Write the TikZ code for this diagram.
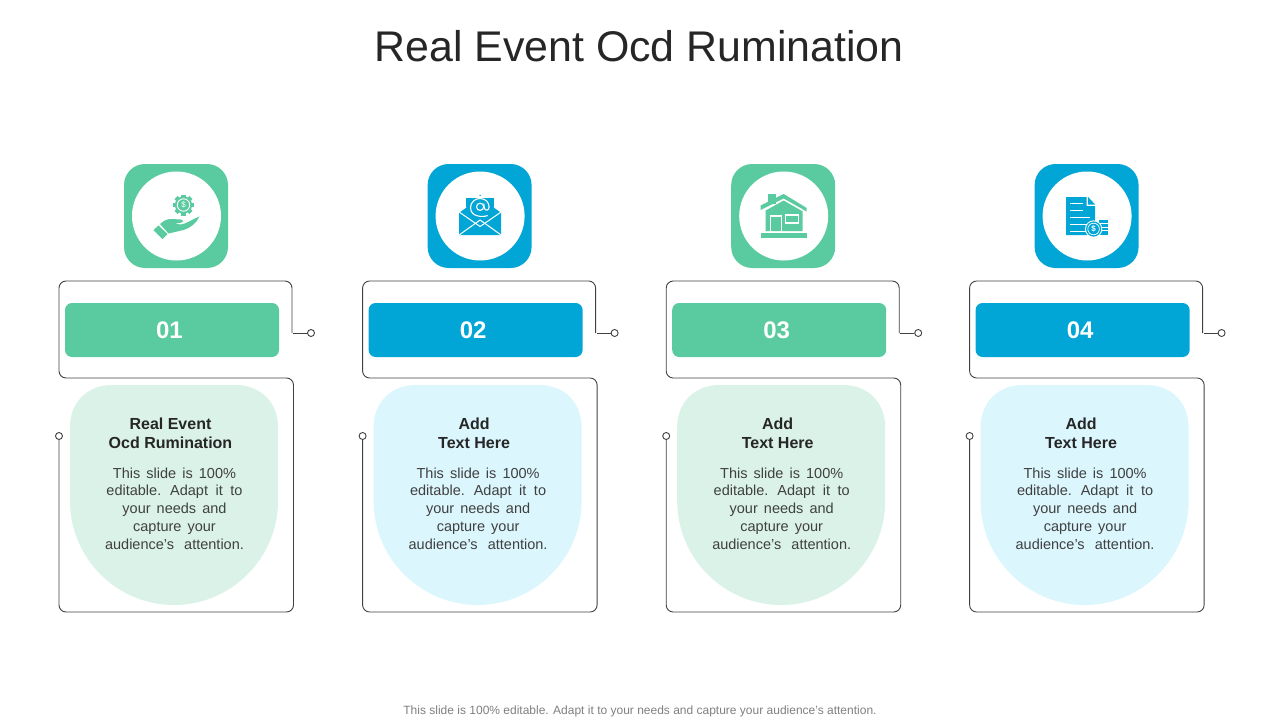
\documentclass[tikz,border=0pt]{standalone}
\usepackage{fontspec}
\setmainfont{Liberation Sans}
\definecolor{grn}{HTML}{5ACBA0}
\definecolor{blu}{HTML}{02A6D6}
\definecolor{lgrn}{HTML}{DAF2E8}
\definecolor{lblu}{HTML}{DBF6FD}
\definecolor{inkc}{HTML}{262626}
\definecolor{bodyink}{HTML}{404040}
\definecolor{footc}{HTML}{7F7F7F}
\definecolor{wirec}{HTML}{404040}
\newcommand{\widesp}[1]{\spaceskip=#1em\relax}
\tikzset{
  titletext/.style={text=inkc,font=\fontsize{42.9}{50}\selectfont,inner sep=0pt},
  foottext/.style={text=footc,font=\fontsize{12}{14}\selectfont,inner sep=0pt},
  headtext/.style={text=inkc,align=center,inner sep=0pt,font=\fontsize{16}{19}\selectfont\bfseries},
  bodytext/.style={text=bodyink,align=center,inner sep=0pt,font=\fontsize{14.5}{17.8}\selectfont},
  numbar/.style={minimum width=214pt,minimum height=54pt,rounded corners=7pt,inner sep=0pt},
  numtext/.style={text=white,inner sep=0pt,font=\fontsize{24}{28}\selectfont\bfseries},
  iconbox/.style={minimum width=104pt,minimum height=104pt,rounded corners=21pt,inner sep=0pt},
  iconround/.style={circle,fill=white,minimum size=89pt,inner sep=0pt},
  ringdot/.style={circle,draw=wirec,fill=white,line width=0.9pt,minimum size=7pt,inner sep=0pt},
  wireline/.style={draw=wirec,line width=0.9pt}
}
\newcommand{\iconhand}[1]{%
  \foreach \ang in {0,45,...,315}{\fill[#1,rotate around={\ang:(7,-11)}] (4.8,-21.5) rectangle (9.2,-18);}
  \fill[#1] (7,-11) circle[radius=8.6];
  \draw[white,line width=0.9pt] (7,-11) circle[radius=6.2];
  \node[text=white,inner sep=0pt,font=\fontsize{8}{8}\selectfont] (dollarA) at (7,-11) {\$};
  \fill[#1] (-23,14) -- (-18,9.5) -- (-9,18) -- (-14,23) -- cycle;
  \fill[#1] (-16.5,8) .. controls (-12,4) and (-8,2.5) .. (-4,3) -- (4,3.5) .. controls (7,4) and (8,6.5) .. (3,7) -- (-2,7.5) -- (4,8.5) .. controls (10,8) and (16,3) .. (23,0.5) .. controls (20,7) and (14,12) .. (7,14) -- (-8,17.5) -- cycle;
}
\newcommand{\iconmail}[1]{%
  \fill[#1] (0,-20.5) circle[radius=0.8];
  \fill[#1] (-14,-18) rectangle (14,4);
  \fill[#1] (-21,-4) -- (-14,-9) -- (14,-9) -- (21,-4) -- (21,19) -- (-21,19) -- cycle;
  \draw[white,line width=1pt,line join=round] (-21,-4) -- (0,10.5) -- (21,-4);
  \draw[white,line width=1pt,line join=round] (-21,19) -- (0,4) -- (21,19);
  \draw[white,line width=1pt] (-14,-9) -- (-21,-4) (14,-9) -- (21,-4);
  \draw[white,line width=1.1pt] (7.5,-0.5) .. controls (3,1.5) and (-9.5,1) .. (-9.5,-8) .. controls (-9.5,-15) and (-4,-17.5) .. (0,-17.5) .. controls (6,-17.5) and (9,-13) .. (9,-9) .. controls (9,-5.5) and (5,-4.5) .. (4.2,-8) -- (3.7,-12.5);
  \draw[white,line width=1.1pt] (0,-9.2) circle[radius=3.6];
}
\newcommand{\iconhouse}[1]{%
  \fill[#1] (-16,-12) rectangle (-8,-22);
  \fill[#1] (-23,-10.5) -- (0,-22) -- (23,-8) -- (23,-4.5) -- (0,-17.5) -- (-23,-6) -- cycle;
  \fill[#1] (-18,-5.5) -- (0,-15.5) -- (19,-4.5) -- (19,15) -- (-18,15) -- cycle;
  \fill[#1] (-22.5,16.5) rectangle (23,22);
  \draw[white,line width=1.3pt] (-13,15) -- (-13,0) -- (-2,0) -- (-2,15);
  \draw[white,line width=1.3pt] (2,-1) rectangle (14.5,7);
}
\newcommand{\icondoc}[1]{%
  \fill[#1] (-21,-19) -- (-0.5,-19) -- (-0.5,-10) -- (8,-10) -- (8,19) -- (-21,19) -- cycle;
  \fill[#1] (1,-19) -- (8,-11.5) -- (1,-11.5) -- cycle;
  \draw[white,line width=1pt] (-17,-13) -- (-4,-13) (-17,-6) -- (-4,-6) (-17,1) -- (3,1) (-17,8.5) -- (3,8.5) (-17,15) -- (3,15);
  \fill[#1] (12,4) rectangle (21,19);
  \draw[white,line width=0.8pt] (12,7.5) -- (21,7.5) (12,11) -- (21,11) (12,14.5) -- (21,14.5);
  \fill[white] (6.5,13) circle[radius=8.6];
  \fill[#1] (6.5,13) circle[radius=7.6];
  \draw[white,line width=0.7pt] (6.5,13) circle[radius=5.8];
  \node[text=white,inner sep=0pt,font=\fontsize{8}{8}\selectfont\bfseries] (dollarD) at (6.5,13) {\$};
}
\newcommand{\panel}[8]{%
\begin{scope}[xshift=#2pt]
  \node[iconbox,fill=#3] (box#1) at (176,216) {};
  \node[iconround] (round#1) at (176.5,216) {};
  \begin{scope}[shift={(176.5,216)}]
    #6{#3}
  \end{scope}
  \node[numbar,fill=#3] (bar#1) at (172,330) {};
  \node[numtext] (num#1) at (169.5,330.5) {#5};
  \fill[#4] (70,427) .. controls (70,402) and (88,385) .. (112,385) -- (236,385)
    .. controls (260,385) and (278,402) .. (278,427) -- (278,501)
    .. controls (278,558) and (231.4,605) .. (174,605)
    .. controls (116.6,605) and (70,558) .. (70,501) -- cycle;
  \node[headtext] (head#1) at (170.5,433.5) {#7\\#8};
  \node[bodytext] (text#1) at (174.5,508.5) {\widesp{0.42}This slide is 100\%\\\widesp{0.52}editable. Adapt it to\\\widesp{0.42}your needs and\\\widesp{0.42}capture your\\\widesp{0.7}audience's attention.};
  \node[ringdot] (right#1) at (311,333) {};
  \node[ringdot] (left#1) at (59,436) {};
  \draw[wireline] (right#1.west) -- (293,333);
  \draw[wireline,rounded corners=7pt] (292,333) -- (292,281) -- (59,281) -- (59,378) -- (293.5,378) -- (293.5,612) -- (59,612) -- (left#1.south);
\end{scope}}
\begin{document}
\begin{tikzpicture}[x=1pt,y=-1pt]
\useasboundingbox (0,0) rectangle (1280,720);
\node[titletext] (title) at (639,46) {Real Event Ocd Rumination};
\node[foottext] (footer) at (640,711) {This slide is 100\% editable. Adapt it to your needs and capture your audience's attention.};
\panel{1}{0}{grn}{lgrn}{01}{\iconhand}{Real Event}{Ocd Rumination}
\panel{2}{303.6}{blu}{lblu}{02}{\iconmail}{Add}{Text Here}
\panel{3}{607.2}{grn}{lgrn}{03}{\iconhouse}{Add}{Text Here}
\panel{4}{910.6}{blu}{lblu}{04}{\icondoc}{Add}{Text Here}
\end{tikzpicture}
\end{document}
